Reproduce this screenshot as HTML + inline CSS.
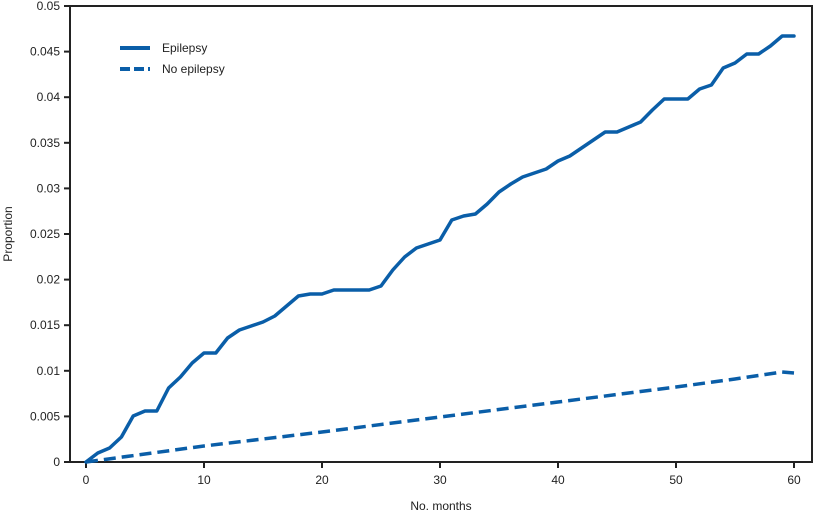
<!DOCTYPE html>
<html><head><meta charset="utf-8"><style>
html,body{margin:0;padding:0;background:#fff;}
text{font-family:"Liberation Sans",sans-serif;font-size:12px;fill:#222;}
</style></head><body>
<svg width="818" height="516" viewBox="0 0 818 516" xmlns="http://www.w3.org/2000/svg">
<rect x="70" y="6" width="742" height="456" fill="none" stroke="#222" stroke-width="2"/>
<g stroke="#222" stroke-width="2">
<line x1="64" y1="462" x2="70" y2="462"/><line x1="64" y1="416.4" x2="70" y2="416.4"/><line x1="64" y1="370.8" x2="70" y2="370.8"/><line x1="64" y1="325.2" x2="70" y2="325.2"/><line x1="64" y1="279.6" x2="70" y2="279.6"/><line x1="64" y1="234" x2="70" y2="234"/><line x1="64" y1="188.4" x2="70" y2="188.4"/><line x1="64" y1="142.8" x2="70" y2="142.8"/><line x1="64" y1="97.2" x2="70" y2="97.2"/><line x1="64" y1="51.6" x2="70" y2="51.6"/><line x1="64" y1="6" x2="70" y2="6"/>
<line x1="86" y1="462" x2="86" y2="468"/><line x1="204" y1="462" x2="204" y2="468"/><line x1="322" y1="462" x2="322" y2="468"/><line x1="440" y1="462" x2="440" y2="468"/><line x1="558" y1="462" x2="558" y2="468"/><line x1="676" y1="462" x2="676" y2="468"/><line x1="794" y1="462" x2="794" y2="468"/>
</g>
<g text-anchor="end">
<text x="60" y="466">0</text><text x="60" y="420.4">0.005</text><text x="60" y="374.8">0.01</text><text x="60" y="329.2">0.015</text><text x="60" y="283.6">0.02</text><text x="60" y="238">0.025</text><text x="60" y="192.4">0.03</text><text x="60" y="146.8">0.035</text><text x="60" y="101.2">0.04</text><text x="60" y="55.6">0.045</text><text x="60" y="10">0.05</text>
</g>
<g text-anchor="middle">
<text x="86" y="484">0</text><text x="204" y="484">10</text><text x="322" y="484">20</text><text x="440" y="484">30</text><text x="558" y="484">40</text><text x="676" y="484">50</text><text x="794" y="484">60</text>
<text x="441" y="510">No. months</text>
<text transform="translate(12,234) rotate(-90)">Proportion</text>
</g>
<polyline fill="none" stroke="#0a5ea8" stroke-width="3.5" stroke-linejoin="round" stroke-linecap="round" points="86,462 97.8,453 109.6,448 121.4,437 133.2,416 145,411 156.8,411 168.6,388 180.4,377 192.2,363 204,353 215.8,353 227.6,338 239.4,330 251.2,326 263,322 274.8,316 286.6,306 298.4,296 310.2,294 322,294 333.8,290 345.6,290 357.4,290 369.2,290 381,286 392.8,270 404.6,257 416.4,248 428.2,244 440,240 451.8,220 463.6,216 475.4,214 487.2,204 499,192 510.8,184 522.6,177 534.4,173 546.2,169 558,161 569.8,156 581.6,148 593.4,140 605.2,132 617,132 628.8,127 640.6,122 652.4,110 664.2,99 676,99 687.8,99 699.6,89 711.4,85 723.2,68 735,63 746.8,54 758.6,54 770.4,46 782.2,36 794,36"/>
<polyline fill="none" stroke="#0a5ea8" stroke-width="3.5" stroke-dasharray="12,6" points="86,462 204,446 322,432 440,417 558,402 676,387 735,379 782,372 794,373"/>
<line x1="120" y1="48" x2="150" y2="48" stroke="#0a5ea8" stroke-width="4"/>
<line x1="120" y1="69" x2="150" y2="69" stroke="#0a5ea8" stroke-width="4" stroke-dasharray="10,4"/>
<text x="162" y="52">Epilepsy</text>
<text x="162" y="73">No epilepsy</text>
</svg>
</body></html>
